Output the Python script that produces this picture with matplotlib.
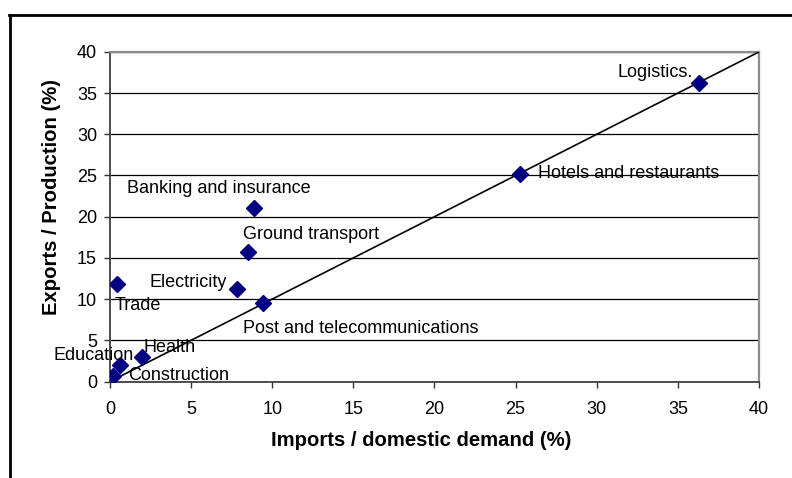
import matplotlib
matplotlib.use("Agg")
import matplotlib.pyplot as plt
from matplotlib.lines import Line2D

# Data
sectors = ["Logistics.", "Hotels and restaurants", "Banking and insurance",
           "Ground transport", "Trade", "Electricity",
           "Post and telecommunications", "Health", "Education", "Construction"]
imports_share = [36.3, 25.3, 8.9, 8.5, 0.45, 7.85, 9.45, 1.95, 0.62, 0.17]
exports_share = [36.2, 25.2, 21.0, 15.75, 11.85, 11.2, 9.5, 3.0, 2.0, 0.65]
# label anchor positions (left edge, vertical centre) in data units
label_x = [31.25, 26.4, 1.05, 8.2, 0.27, 2.45, 8.2, 2.05, -3.5, 1.09]
label_y = [37.5, 25.2, 23.4, 17.8, 9.2, 12.0, 6.4, 4.1, 3.2, 0.7]
diag = [0, 40]
ticks = [0, 5, 10, 15, 20, 25, 30, 35, 40]

plt.rcParams['font.family'] = ['Liberation Sans', 'DejaVu Sans']

W, H = 792, 478
fig = plt.figure(figsize=(W / 100, H / 100), dpi=100)
fig.patch.set_facecolor("white")

ax = fig.add_axes([110 / W, 96.5 / H, 649 / W, 329.6 / H])
ax.set_xlim(0, 40)
ax.set_ylim(0, 40)
ax.set_xticks(ticks)
ax.set_yticks(ticks)
ax.tick_params(axis="both", direction="out", length=4.3, width=1.0,
               labelsize=13, color="#333333")
ax.tick_params(axis="x", pad=10)
ax.tick_params(axis="y", pad=5.0)

ax.yaxis.grid(True, color="black", linewidth=0.9)
ax.set_axisbelow(True)

for side in ["top", "right"]:
    ax.spines[side].set_color("#8c8c8c")
    ax.spines[side].set_linewidth(1.6)
for side in ["left", "bottom"]:
    ax.spines[side].set_color("#404040")
    ax.spines[side].set_linewidth(1.3)

ax.plot(diag, diag, color="black", linewidth=1.2, zorder=3)
ax.plot(imports_share, exports_share, linestyle="none", marker="D",
        markersize=8.3, color="#000080", markeredgecolor="#000080", zorder=4)

for name, lx, ly in zip(sectors, label_x, label_y):
    ax.text(lx, ly, name, ha="left", va="center", fontsize=13,
            color="black", zorder=5)

fig.text(420.9 / W, 1 - 440.7 / H, "Imports / domestic demand (%)",
         ha="center", va="center", fontsize=14.6, fontweight="bold")
fig.text(51.7 / W, 1 - 197 / H, "Exports / Production (%)",
         ha="center", va="center", fontsize=14.6, fontweight="bold",
         rotation=90)

# outer frame (top and left edges visible)
fig.add_artist(Line2D([8.5 / W, 1.0], [1 - 14.5 / H, 1 - 14.5 / H],
                      transform=fig.transFigure, color="black", linewidth=2.0))
fig.add_artist(Line2D([9.5 / W, 9.5 / W], [0.0, 1 - 14.5 / H],
                      transform=fig.transFigure, color="black", linewidth=2.0))

fig.savefig("out.png", dpi=100)
